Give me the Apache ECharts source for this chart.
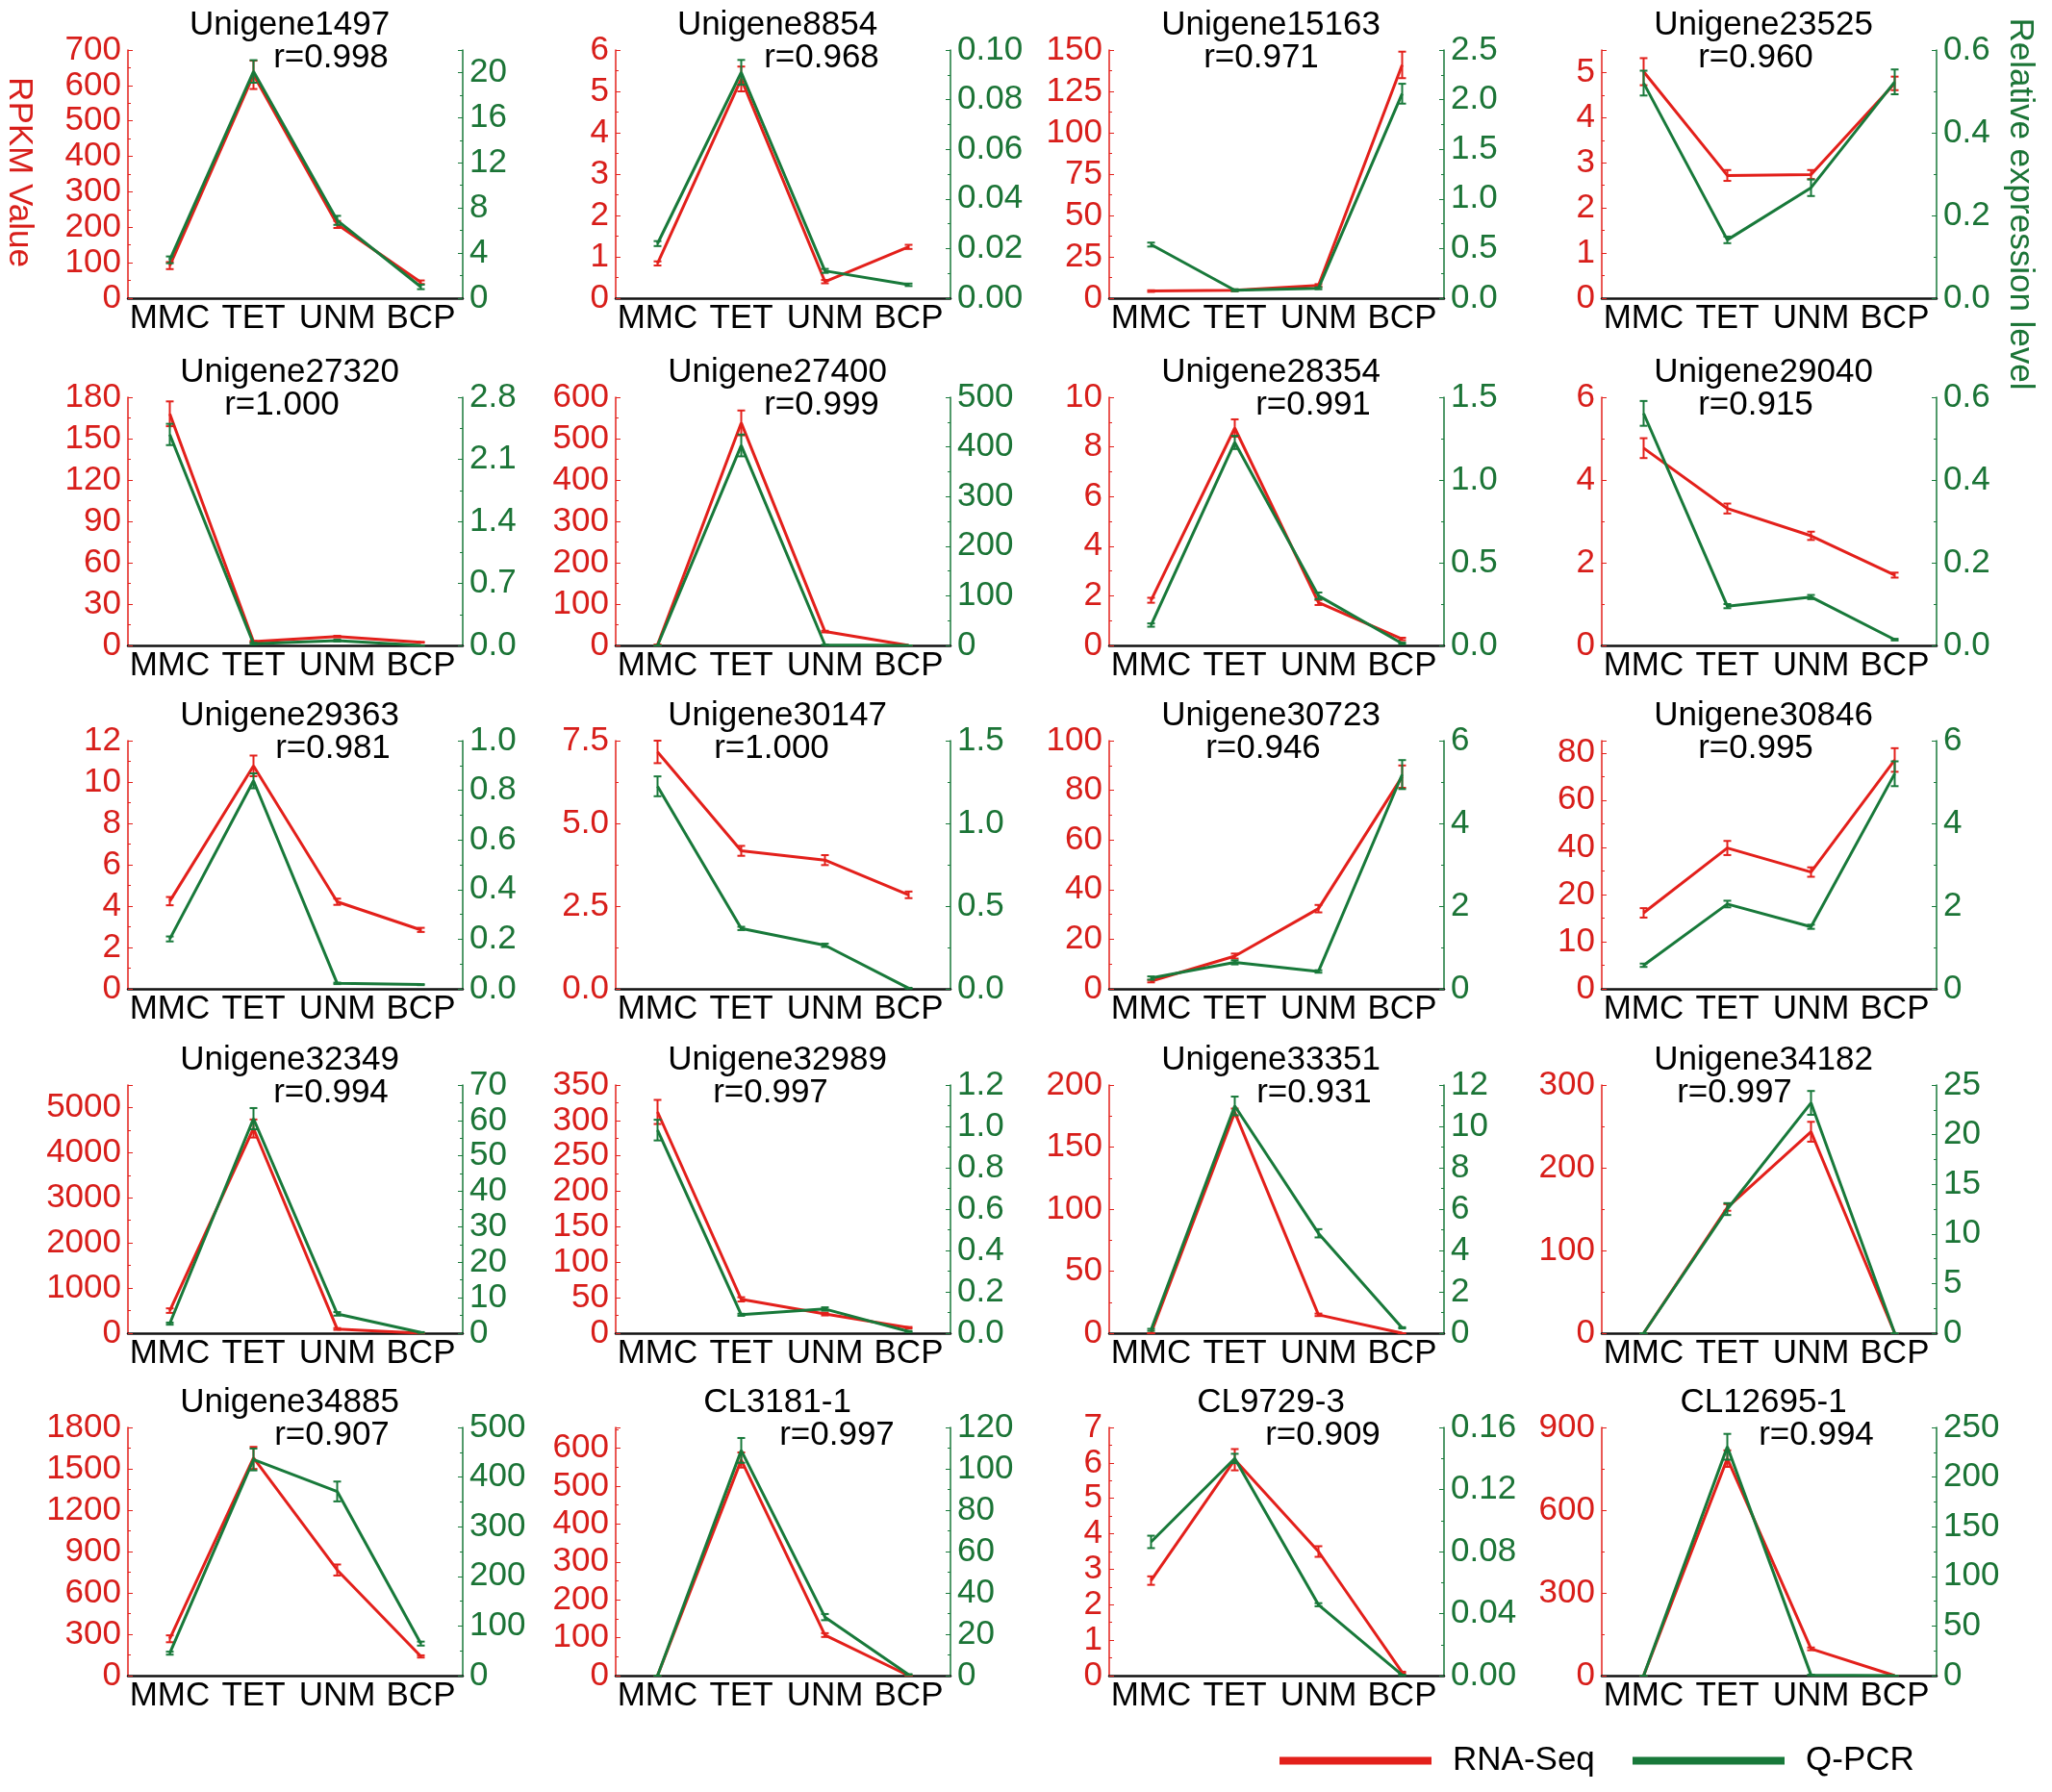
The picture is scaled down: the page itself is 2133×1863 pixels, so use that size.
<!DOCTYPE html>
<html lang="en">
<head>
<meta charset="UTF-8">
<title>RNA-Seq vs Q-PCR</title>
<script src="https://cdn.jsdelivr.net/npm/echarts@6/dist/echarts.min.js"></script>
<style>
  body { margin: 0; background: #fff; }
  #main { width: 2133px; height: 1863px; }
</style>
</head>
<body>
<div id="main"></div>
<script>
  // stages on every x axis
  const stages = ['MMC', 'TET', 'UNM', 'BCP'];
  const geneNames = [
    'Unigene1497', 'Unigene8854', 'Unigene15163', 'Unigene23525',
    'Unigene27320', 'Unigene27400', 'Unigene28354', 'Unigene29040',
    'Unigene29363', 'Unigene30147', 'Unigene30723', 'Unigene30846',
    'Unigene32349', 'Unigene32989', 'Unigene33351', 'Unigene34182',
    'Unigene34885', 'CL3181-1', 'CL9729-3', 'CL12695-1'
  ];
  const rLabels = [
    'r=0.998', 'r=0.968', 'r=0.971', 'r=0.960',
    'r=1.000', 'r=0.999', 'r=0.991', 'r=0.915',
    'r=0.981', 'r=1.000', 'r=0.946', 'r=0.995',
    'r=0.994', 'r=0.997', 'r=0.931', 'r=0.997',
    'r=0.907', 'r=0.997', 'r=0.909', 'r=0.994'
  ];
  // RNA-Seq (RPKM), left axis
  const rnaSeq = [
    [92, 630, 208, 45], [0.84, 5.3, 0.40, 1.24], [4.3, 4.8, 7.7, 141], [5.02, 2.72, 2.74, 4.76],
    [168, 2.8, 6.5, 2.3], [1.5, 538, 33.5, 0], [1.82, 8.76, 1.73, 0.26], [4.77, 3.31, 2.65, 1.70],
    [4.24, 10.78, 4.21, 2.85], [7.16, 4.17, 3.89, 2.84], [3.1, 13.2, 32.3, 85.5], [16.1, 39.7, 29.5, 77],
    [500, 4536, 93, 0], [312, 47.7, 27, 7.7], [0, 178, 14.8, 0], [0, 152, 243.5, 0],
    [267, 1579, 766, 139], [0, 569, 107, 0], [2.68, 6.09, 3.5, 0.09], [0, 787, 97, 0]
  ];
  const rnaSeqErr = [
    [10, 40, 10, 5], [0.05, 0.3, 0.04, 0.05], [0.5, 0.5, 0.8, 8], [0.3, 0.12, 0.1, 0.15],
    [9, 0.5, 0.5, 0.3], [0.5, 30, 2, 0], [0.1, 0.35, 0.1, 0.05], [0.24, 0.12, 0.1, 0.06],
    [0.2, 0.5, 0.15, 0.1], [0.34, 0.15, 0.15, 0.1], [0.5, 1, 1.5, 4.5], [1, 3, 2, 5],
    [50, 200, 20, 0], [17, 3, 2, 1], [0, 3, 1, 0], [0, 4, 12, 0],
    [25, 80, 40, 8], [0, 20, 5, 0], [0.12, 0.3, 0.15, 0.02], [0, 30, 5, 0]
  ];
  // Q-PCR relative expression, right axis
  const qPcr = [
    [3.4, 20.1, 6.9, 1.0], [0.022, 0.091, 0.011, 0.0054], [0.54, 0.08, 0.10, 2.06], [0.52, 0.141, 0.267, 0.523],
    [2.38, 0.02, 0.055, 0.0], [0, 403, 1, 0], [0.123, 1.227, 0.30, 0.012], [0.561, 0.095, 0.117, 0.014],
    [0.201, 0.838, 0.022, 0.017], [1.224, 0.365, 0.263, 0.004], [0.26, 0.64, 0.42, 5.18], [0.57, 2.05, 1.50, 5.2],
    [2.7, 60.5, 5.45, 0.2], [0.982, 0.089, 0.117, 0.008], [0.16, 10.99, 4.83, 0.26], [0, 12.5, 23.2, 0],
    [45.2, 435.5, 371, 64.5], [0, 108.9, 28.3, 0.5], [0.0862, 0.140, 0.0457, 0.0004], [0, 230.5, 0.6, 0]
  ];
  const qPcrErr = [
    [0.3, 1, 0.4, 0.2], [0.001, 0.005, 0.0008, 0.0005], [0.02, 0.01, 0.01, 0.1], [0.03, 0.008, 0.02, 0.03],
    [0.12, 0.01, 0.01, 0], [0, 22, 0, 0], [0.01, 0.04, 0.02, 0.005], [0.03, 0.005, 0.005, 0.002],
    [0.01, 0.03, 0.003, 0.002], [0.06, 0.01, 0.01, 0.002], [0.04, 0.05, 0.03, 0.35], [0.04, 0.08, 0.05, 0.3],
    [0.3, 3, 0.5, 0.1], [0.05, 0.005, 0.008, 0.003], [0.05, 0.45, 0.2, 0.03], [0, 0.6, 1.2, 0],
    [3, 22, 20, 4], [0, 6, 1.5, 0.2], [0.004, 0.003, 0.001, 0.0002], [0, 13, 0.3, 0]
  ];
  // axis ranges / tick steps / label decimals
  const leftMax = [700, 6, 150, 5.5, 180, 600, 10, 6, 12, 7.5, 100, 85.2, 5500, 350, 200, 300, 1800, 655, 7, 900];
  const leftStep = [100, 1, 25, 1, 30, 100, 2, 2, 2, 2.5, 20, 20, 1000, 50, 50, 100, 300, 100, 1, 300];
  const leftDec = [0, 0, 0, 0, 0, 0, 0, 0, 0, 1, 0, 0, 0, 0, 0, 0, 0, 0, 0, 0];
  const rightMax = [22, 0.1, 2.5, 0.6, 2.8, 500, 1.5, 0.6, 1.0, 1.5, 6, 6, 70, 1.2, 12, 25, 500, 120, 0.16, 250];
  const rightStep = [4, 0.02, 0.5, 0.2, 0.7, 100, 0.5, 0.2, 0.2, 0.5, 2, 2, 10, 0.2, 2, 5, 100, 20, 0.04, 50];
  const rightDec = [0, 2, 1, 1, 1, 0, 1, 1, 1, 1, 0, 0, 0, 1, 0, 0, 0, 0, 2, 0];
  // Unigene30846 has a broken left axis: 0-20 drawn at double scale
  const brokenPanel = 11;
  const brokenAt = 20;

  // layout
  const colLeft = [133, 640, 1153, 1665];
  const rowTop = [52, 413, 770, 1128, 1484];
  const plotW = 348, plotH = 258;
  const rOffset = [211, 214, 158, 160, 160, 214, 212, 160, 213, 162, 160, 160, 211, 161, 213, 138, 212, 230, 222, 223];
  const RED = '#e3201b', RED_TXT = '#d81e1a', GREEN = '#18793a', GREEN_TXT = '#1b7436';
  const FONT = '"Liberation Sans", Arial, Helvetica, sans-serif';

  const squash = v => v <= brokenAt ? v : brokenAt + (v - brokenAt) / 2;
  const unsquash = v => v <= brokenAt ? v : brokenAt + (v - brokenAt) * 2;

  function labelFmt(step, dec, inv) {
    return function (v) {
      const k = v / step;
      if (Math.abs(k - Math.round(k)) > 1e-6) return '';
      return (inv ? inv(v) : v).toFixed(dec);
    };
  }

  function renderErr(params, api) {
    const x = api.value(0);
    const p1 = api.coord([x, api.value(1)]);
    const p2 = api.coord([x, api.value(2)]);
    const w = 4;
    const st = {stroke: api.visual('color'), lineWidth: 2};
    return {
      type: 'group',
      children: [
        {type: 'line', shape: {x1: p1[0], y1: p1[1], x2: p2[0], y2: p2[1]}, style: st},
        {type: 'line', shape: {x1: p1[0] - w, y1: p1[1], x2: p1[0] + w, y2: p1[1]}, style: st},
        {type: 'line', shape: {x1: p2[0] - w, y1: p2[1], x2: p2[0] + w, y2: p2[1]}, style: st}
      ]
    };
  }

  function yAxisCfg(i, side, max, step, dec, color, txtColor, inv) {
    return {
      type: 'value', gridIndex: i, position: side, min: 0, max: max, interval: step,
      axisLine: {show: true, lineStyle: {color: color, width: 1.5}},
      axisTick: {show: true, inside: true, length: 5, lineStyle: {color: color}},
      minorTick: {show: true, splitNumber: 2, length: 3, lineStyle: {color: color}},
      splitLine: {show: false},
      axisLabel: {color: txtColor, fontSize: 35, fontFamily: FONT, margin: 7,
        formatter: labelFmt(step, dec, inv)}
    };
  }

  const grid = [], xAxis = [], yAxis = [], series = [], graphic = [];
  geneNames.forEach(function (name, i) {
    const left = colLeft[i % 4], top = rowTop[Math.floor(i / 4)];
    const broken = i === brokenPanel;
    const tf = broken ? squash : (v => v);
    grid.push({left: left, top: top, width: plotW, height: plotH});
    xAxis.push({
      type: 'category', gridIndex: i, data: stages, boundaryGap: true,
      axisLine: {lineStyle: {color: '#111', width: 2.5}},
      axisTick: {alignWithLabel: true, length: 6, lineStyle: {color: '#111'}},
      axisLabel: {color: '#000', fontSize: 35, fontFamily: FONT, margin: 4, interval: 0}
    });
    if (broken) {
      yAxis.push(yAxisCfg(i, 'left', squash(leftMax[i]), 10, 0, RED, RED_TXT, unsquash));
    } else {
      yAxis.push(yAxisCfg(i, 'left', leftMax[i], leftStep[i], leftDec[i], RED, RED_TXT));
    }
    yAxis.push(yAxisCfg(i, 'right', rightMax[i], rightStep[i], rightDec[i], GREEN, GREEN_TXT));

    series.push({
      type: 'line', name: 'RNA-Seq', xAxisIndex: i, yAxisIndex: 2 * i,
      data: rnaSeq[i].map(tf), symbol: 'none',
      lineStyle: {color: RED, width: 3}, itemStyle: {color: RED}, z: 3
    });
    series.push({
      type: 'custom', name: 'rna-err', xAxisIndex: i, yAxisIndex: 2 * i,
      renderItem: renderErr, itemStyle: {color: RED}, encode: {x: 0, y: [1, 2]}, z: 4,
      data: rnaSeq[i].map((v, k) => [k, tf(Math.max(0, v - rnaSeqErr[i][k])), tf(v + rnaSeqErr[i][k])])
    });
    series.push({
      type: 'line', name: 'Q-PCR', xAxisIndex: i, yAxisIndex: 2 * i + 1,
      data: qPcr[i], symbol: 'none',
      lineStyle: {color: GREEN, width: 3}, itemStyle: {color: GREEN}, z: 5
    });
    series.push({
      type: 'custom', name: 'qpcr-err', xAxisIndex: i, yAxisIndex: 2 * i + 1,
      renderItem: renderErr, itemStyle: {color: GREEN}, encode: {x: 0, y: [1, 2]}, z: 6,
      data: qPcr[i].map((v, k) => [k, Math.max(0, v - qPcrErr[i][k]), v + qPcrErr[i][k]])
    });

    graphic.push({
      type: 'text', x: left + 168, y: top - 26,
      style: {text: name, font: '35px ' + FONT, fill: '#000', align: 'center', verticalAlign: 'middle'}
    });
    graphic.push({
      type: 'text', x: left + rOffset[i], y: top + 8,
      style: {text: rLabels[i], font: '35px ' + FONT, fill: '#000', align: 'center', verticalAlign: 'middle'}
    });
  });

  graphic.push({
    type: 'text', x: 20, y: 179, rotation: -Math.PI / 2,
    style: {text: 'RPKM Value', font: '35px ' + FONT, fill: RED_TXT, align: 'center', verticalAlign: 'middle'}
  });
  graphic.push({
    type: 'text', x: 2100, y: 212, rotation: -Math.PI / 2,
    style: {text: 'Relative expression level', font: '35px ' + FONT, fill: GREEN_TXT, align: 'center', verticalAlign: 'middle'}
  });

  const legendBase = {
    top: 1808, icon: 'rect', itemWidth: 158, itemHeight: 8, selectedMode: false,
    textStyle: {fontSize: 35, color: '#000', fontFamily: FONT, padding: [0, 0, 0, 17]}
  };

  const chart = echarts.init(document.getElementById('main'));
  chart.setOption({
    animation: false,
    backgroundColor: '#fff',
    grid: grid,
    xAxis: xAxis,
    yAxis: yAxis,
    series: series,
    graphic: graphic,
    legend: [
      Object.assign({data: ['RNA-Seq'], left: 1325}, legendBase),
      Object.assign({data: ['Q-PCR'], left: 1692}, legendBase)
    ]
  });
</script>
</body>
</html>
